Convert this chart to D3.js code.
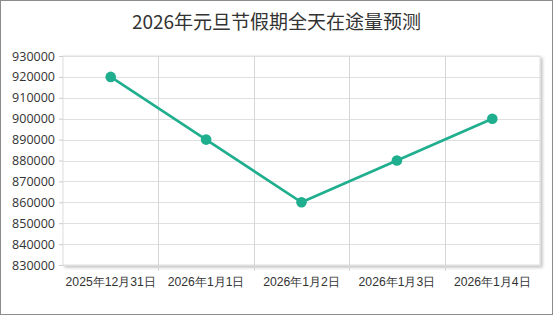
<!DOCTYPE html>
<html>
<head>
<meta charset="utf-8">
<script src="https://cdn.jsdelivr.net/npm/d3@7"></script>
<style>
  html, body { margin: 0; padding: 0; background: #fff; }
  svg { display: block; font-family: "Noto Sans CJK SC", "Open Sans", sans-serif; }
</style>
</head>
<body>
<svg id="chart" width="553" height="315"></svg>
<script>
const title = "2026年元旦节假期全天在途量预测";
const categories = ["2025年12月31日", "2026年1月1日", "2026年1月2日", "2026年1月3日", "2026年1月4日"];
const values = [920000, 890000, 860000, 880000, 900000];
const yTicks = [830000, 840000, 850000, 860000, 870000, 880000, 890000, 900000, 910000, 920000, 930000];

const svg = d3.select("#chart");
const W = 553, H = 315;
const m = {left: 63, right: 13, top: 56, bottom: 50};
const pw = W - m.left - m.right, ph = H - m.top - m.bottom;

// outer frame
svg.append("rect").attr("x", 0.5).attr("y", 0.5).attr("width", W - 1).attr("height", H - 1)
    .attr("fill", "#fff").attr("stroke", "#8c8c8c");

svg.append("text").attr("x", W / 2).attr("y", 29).attr("text-anchor", "middle")
    .attr("font-size", 19).attr("fill", "#333").text(title);

const defs = svg.append("defs");
const f = defs.append("filter").attr("id", "sh").attr("x", "-5%").attr("y", "-5%").attr("width", "115%").attr("height", "115%");
f.append("feDropShadow").attr("dx", 2).attr("dy", 2).attr("stdDeviation", 1.5).attr("flood-color", "#000").attr("flood-opacity", 0.25);

const x = d3.scaleBand().domain(categories).range([0, pw]);
const y = d3.scaleLinear().domain([830000, 930000]).range([ph, 0]);

const g = svg.append("g").attr("transform", `translate(${m.left},${m.top})`);
g.append("rect").attr("width", pw).attr("height", ph).attr("fill", "#fff")
    .attr("stroke", "#ddd").attr("filter", "url(#sh)");

// grid
g.append("g").selectAll("line").data(yTicks).join("line")
    .attr("x1", 0).attr("x2", pw).attr("y1", d => Math.round(y(d)) + 0.5).attr("y2", d => Math.round(y(d)) + 0.5)
    .attr("stroke", "#e0e0e0");
g.append("g").selectAll("line").data(categories.slice(1)).join("line")
    .attr("x1", d => Math.round(x(d)) + 0.5).attr("x2", d => Math.round(x(d)) + 0.5)
    .attr("y1", 0).attr("y2", ph + 6).attr("stroke", "#d6d6d6");

// axes
const axisY = d3.axisLeft(y).tickValues(yTicks).tickSize(4).tickPadding(4).tickFormat(d => d);
const axisYG = g.append("g").call(axisY);
axisYG.select(".domain").remove();
axisYG.selectAll("line").attr("stroke", "#ccc");
axisYG.selectAll("text").attr("font-size", 12.5).attr("fill", "#333")
    .attr("font-family", "'Open Sans', 'Noto Sans', sans-serif");

const axisX = d3.axisBottom(x).tickSize(0).tickPadding(12);
const axisXG = g.append("g").attr("transform", `translate(0,${ph})`).call(axisX);
axisXG.select(".domain").remove();
axisXG.selectAll("text").attr("font-size", 12.2).attr("fill", "#333");

// line + dots
const line = d3.line().x((d, i) => x(categories[i]) + x.bandwidth() / 2).y(d => y(d));
g.append("path").datum(values).attr("d", line)
    .attr("fill", "none").attr("stroke", "#1fae8e").attr("stroke-width", 2.6);
g.selectAll("circle.pt").data(values).join("circle").attr("class", "pt")
    .attr("cx", (d, i) => x(categories[i]) + x.bandwidth() / 2).attr("cy", d => y(d))
    .attr("r", 5.3).attr("fill", "#1fae8e");
</script>
</body>
</html>
